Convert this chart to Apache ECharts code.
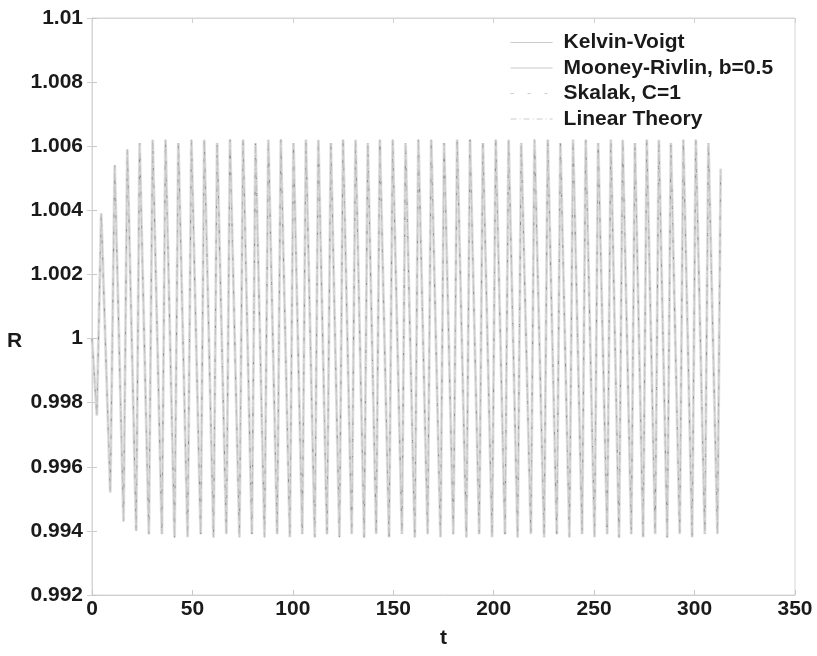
<!DOCTYPE html>
<html>
<head>
<meta charset="utf-8">
<script src="https://cdn.jsdelivr.net/npm/echarts@6/dist/echarts.min.js"></script>
<style>
  html, body { margin: 0; padding: 0; background: #ffffff; }
  #chart { width: 817px; height: 656px; }
</style>
</head>
<body>
<div id="chart"></div>
<script>
// ---- data (extrema of the oscillation; the four model curves coincide at this scale) ----
const seriesNames = ['Kelvin-Voigt', 'Mooney-Rivlin, b=0.5', 'Skalak, C=1', 'Linear Theory'];
const xTicks = [0, 50, 100, 150, 200, 250, 300, 350];
const yTicks = [0.992, 0.994, 0.996, 0.998, 1.0, 1.002, 1.004, 1.006, 1.008, 1.01];

const startT = 0.0;
const startR = 1.0;

const troughT = [
  2.4, 9.1, 15.7, 22.0, 28.3, 34.8, 41.1, 47.6, 54.1, 60.5,
  66.9, 73.4, 79.6, 85.9, 92.2, 98.5, 104.7, 110.9, 117.0, 123.2,
  129.3, 135.5, 141.5, 147.9, 154.3, 160.7, 167.1, 173.5, 179.9, 186.4,
  192.8, 199.2, 205.6, 211.9, 218.5, 225.1, 231.4, 237.7, 244.0, 250.2,
  256.5, 262.4, 268.5, 274.4, 280.4, 286.4, 292.6, 298.8, 305.1, 311.4
];
const troughR = [
  0.9976, 0.9952, 0.9943, 0.9940, 0.9939, 0.9939, 0.9938, 0.9938, 0.9939, 0.9938,
  0.9939, 0.9938, 0.9939, 0.9938, 0.9939, 0.9938, 0.9939, 0.9938, 0.9939, 0.9938,
  0.9939, 0.9938, 0.9939, 0.9938, 0.9939, 0.9938, 0.9939, 0.9938, 0.9939, 0.9938,
  0.9939, 0.9938, 0.9939, 0.9938, 0.9939, 0.9938, 0.9939, 0.9938, 0.9939, 0.9938,
  0.9939, 0.9938, 0.9939, 0.9938, 0.9939, 0.9938, 0.9939, 0.9938, 0.9939, 0.9939
];
const peakT = [
  4.6, 11.3, 17.6, 23.7, 30.2, 36.6, 43.0, 49.5, 55.9, 62.3,
  68.7, 75.2, 81.4, 87.8, 94.0, 100.3, 106.5, 112.7, 118.9, 125.0,
  131.2, 137.3, 143.3, 149.7, 156.1, 162.5, 168.9, 175.3, 181.8, 188.2,
  194.6, 201.0, 207.4, 213.7, 220.3, 226.9, 233.2, 239.5, 245.8, 252.0,
  258.3, 264.2, 270.3, 276.2, 282.2, 288.2, 294.4, 300.6, 306.9, 313.0
];
const peakR = [
  1.0039, 1.0054, 1.0059, 1.0061, 1.0062, 1.0062, 1.0061, 1.0062, 1.0062, 1.0061,
  1.0062, 1.0062, 1.0061, 1.0062, 1.0062, 1.0061, 1.0062, 1.0062, 1.0061, 1.0062,
  1.0062, 1.0061, 1.0062, 1.0062, 1.0061, 1.0062, 1.0062, 1.0061, 1.0062, 1.0062,
  1.0061, 1.0062, 1.0062, 1.0061, 1.0062, 1.0062, 1.0061, 1.0062, 1.0062, 1.0061,
  1.0062, 1.0062, 1.0061, 1.0062, 1.0062, 1.0061, 1.0062, 1.0062, 1.0061, 1.0053
];

// ---- build the curve ----
function buildCurve() {
  const pts = [[startT, startR]];
  for (let i = 0; i < troughT.length; i++) {
    pts.push([troughT[i], troughR[i]]);
    pts.push([peakT[i], peakR[i]]);
  }
  return pts;
}
const curve = buildCurve();

const FONT = '"Liberation Sans", Arial, Helvetica, sans-serif';
const styles = [
  { color: '#e2e2e2', width: 3, type: 'solid' },
  { color: '#d2d2d2', width: 1.3, type: 'solid' },
  { color: '#8c8c8c', width: 1, type: [3, 14] },
  { color: '#c2c2c2', width: 1, type: [6, 3, 1, 3] }
];

const chart = echarts.init(document.getElementById('chart'), null, { renderer: 'canvas' });
const labelStyle = { fontFamily: FONT, fontWeight: 'bold', fontSize: 21, color: '#1a1a1a' };

chart.setOption({
  animation: false,
  backgroundColor: '#ffffff',
  grid: { left: 92, right: 22, top: 18, bottom: 61, show: true, borderColor: '#d6d6d6', borderWidth: 1, backgroundColor: 'transparent' },
  legend: {
    orient: 'vertical', left: 510, top: 32, padding: 0,
    itemWidth: 42, itemHeight: 10, itemGap: 4.5,
    data: seriesNames,
    itemStyle: { color: 'transparent', borderWidth: 0, opacity: 0 },
    lineStyle: { width: 1.2, color: '#cccccc' },
    textStyle: { fontFamily: FONT, fontWeight: 'bold', fontSize: 21, color: '#1a1a1a', lineHeight: 21, padding: [0, 0, 0, 6] }
  },
  graphic: [{
    type: 'text', left: 7, top: 331,
    style: { text: 'R', fontFamily: FONT, fontWeight: 'bold', fontSize: 21, fill: '#1a1a1a' }
  }],
  xAxis: [{
    type: 'value', min: xTicks[0], max: xTicks[xTicks.length - 1], interval: 50,
    name: 't', nameLocation: 'middle', nameGap: 33,
    nameTextStyle: labelStyle,
    axisLine: { show: true, lineStyle: { color: '#d0d0d0' } },
    axisTick: { show: true, inside: true, length: 5, lineStyle: { color: '#c8c8c8' } },
    axisLabel: Object.assign({ margin: 4 }, labelStyle),
    splitLine: { show: false }
  }, {
    type: 'value', position: 'top', min: xTicks[0], max: xTicks[xTicks.length - 1], interval: 50,
    axisLine: { show: true, lineStyle: { color: '#d6d6d6' } },
    axisTick: { show: true, inside: true, length: 5, lineStyle: { color: '#d0d0d0' } },
    axisLabel: { show: false }, splitLine: { show: false }
  }],
  yAxis: [{
    type: 'value', min: yTicks[0], max: yTicks[yTicks.length - 1], interval: 0.002,
    axisLine: { show: true, lineStyle: { color: '#d0d0d0' } },
    axisTick: { show: true, inside: true, length: 5, lineStyle: { color: '#c8c8c8' } },
    axisLabel: Object.assign({ margin: 9, formatter: v => String(parseFloat(v.toFixed(3))) }, labelStyle),
    splitLine: { show: false }
  }, {
    type: 'value', position: 'right', min: yTicks[0], max: yTicks[yTicks.length - 1], interval: 0.002,
    axisLine: { show: true, lineStyle: { color: '#d6d6d6' } },
    axisTick: { show: true, inside: true, length: 5, lineStyle: { color: '#d0d0d0' } },
    axisLabel: { show: false }, splitLine: { show: false }
  }],
  series: seriesNames.map((name, i) => ({
    name: name,
    type: 'line',
    data: curve,
    symbol: 'none',
    showSymbol: false,
    smooth: false,
    lineStyle: styles[i],
    itemStyle: { color: styles[i].color },
    z: 2 + i
  }))
});
</script>
</body>
</html>
